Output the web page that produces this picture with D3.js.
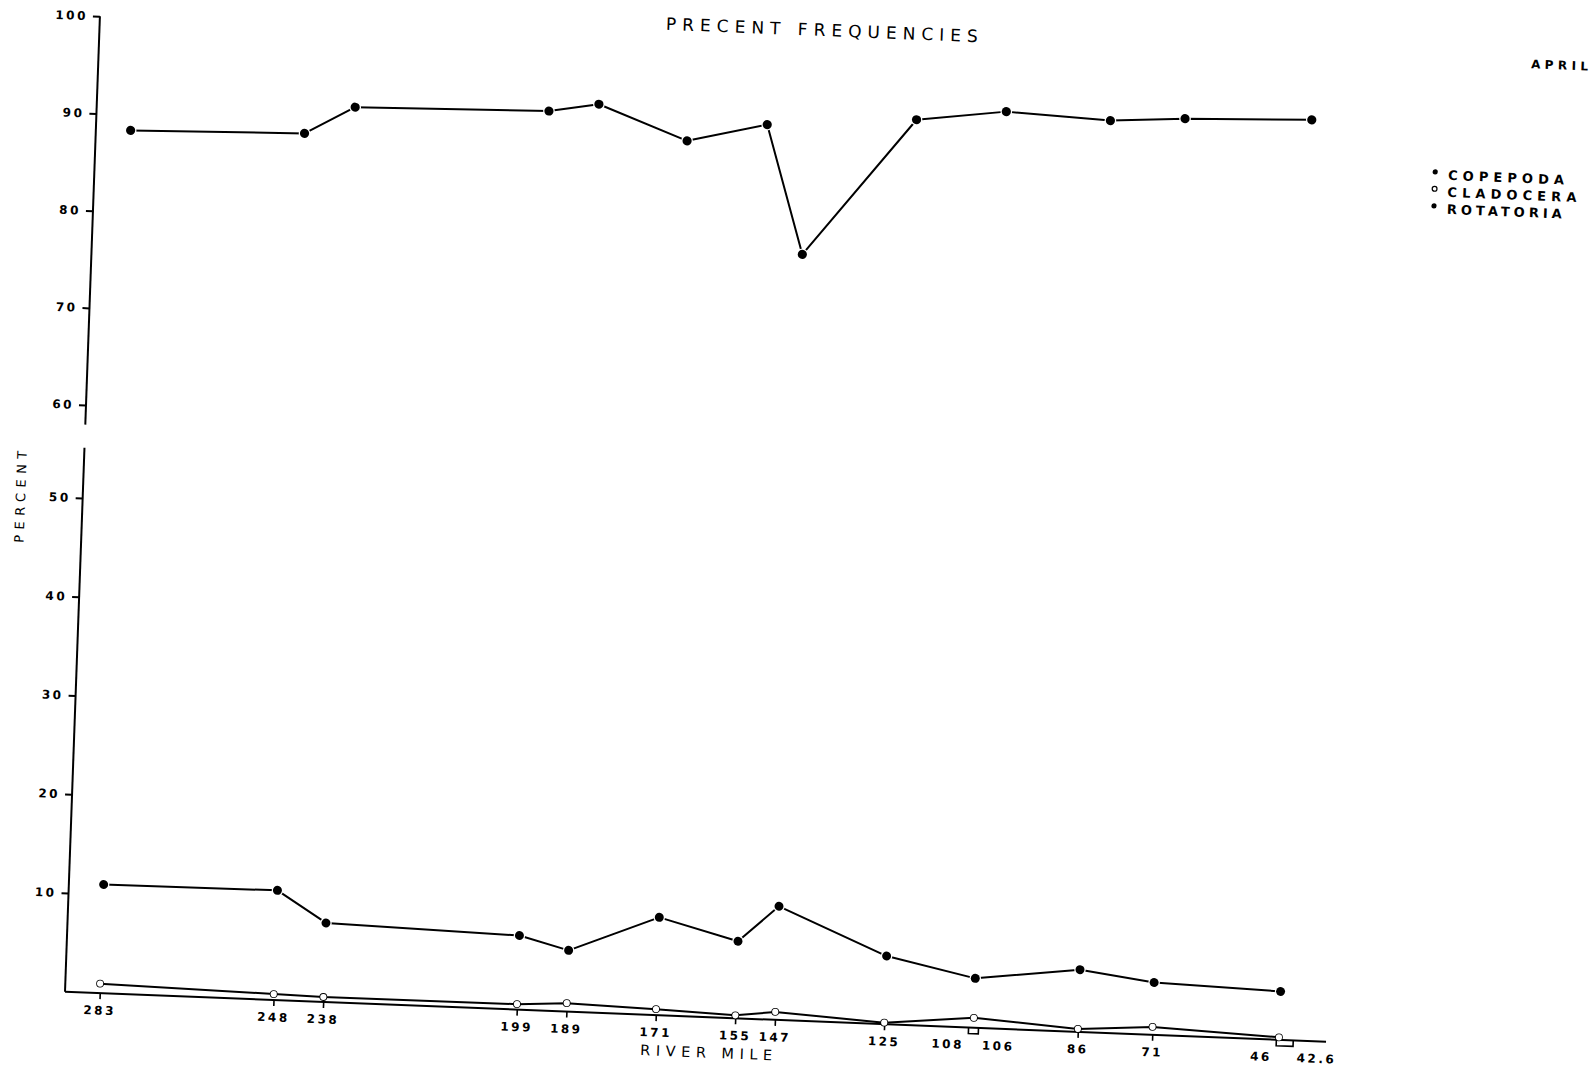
<!DOCTYPE html>
<html>
<head>
<meta charset="utf-8">
<script src="https://cdn.jsdelivr.net/npm/d3@7"></script>
<style>
  html, body { margin: 0; padding: 0; background: #fff; }
  svg { display: block; }
  .num { font-family: "DejaVu Sans", sans-serif; font-weight: bold; font-size: 12px; letter-spacing: 2.5px; fill: #000; }
</style>
</head>
<body>
<script>
// River-mile stations sampled in April (two stations are paired: 108/106 and 46/42.6)
const stationMiles = [283, 248, 238, 199, 189, 171, 155, 147, 125, 107, 86, 71, 45.5];

// Percent frequency of each group at each station
const rotatoria = [88.4, 88.8, 91.7, 92.1, 93.0, 89.6, 91.6, 78.4, 92.7, 93.9, 93.4, 93.9, 94.3];
const copepoda  = [11.0, 11.1, 8.0, 7.5, 6.2, 9.9, 7.8, 11.5, 6.9, 5.0, 6.3, 5.3, 4.9];
const cladocera = [0.95, 0.6, 0.5, 0.55, 0.85, 0.6, 0.3, 0.8, 0.15, 1.0, 0.3, 0.8, 0.25];

// Axis ticks
const xTickMiles = [283, 248, 238, 199, 189, 171, 155, 147, 125, 86, 71];
const pairedStations = [[108, 106], [46, 42.6]];
const yTicks = [10, 20, 30, 40, 50, 60, 70, 80, 90, 100];
const yBreak = [55.4, 57.9];

const W = 1594, H = 1068;
const svg = d3.select("body").append("svg").attr("width", W).attr("height", H);
svg.append("rect").attr("width", W).attr("height", H).attr("fill", "#fff");

// The whole sheet sits a couple of degrees off square on the page
const g = svg.append("g")
  .attr("transform", "matrix(0.99922,0.03961,-0.03577,0.99936,65,991.7)");

// Scales: river mile decreases downstream (left to right); broken percent axis
const x = d3.scaleLinear().domain([290, 36]).range([0, 1262]);
const y = d3.scaleLinear().domain([0, 50, 60, 100]).range([0, -494, -587, -976]);

// Y axis
const yAxis = g.append("g")
  .call(d3.axisLeft(y).tickValues(yTicks).tickSize(7).tickPadding(5).tickFormat(d3.format("d")));
yAxis.select(".domain").remove();
yAxis.selectAll(".tick line").attr("stroke", "#000").attr("stroke-width", 2);
yAxis.selectAll(".tick text").attr("class", "num").attr("font-size", null).attr("font-family", null);

g.append("line").attr("x1", 0).attr("x2", 0).attr("y1", y(0)).attr("y2", y(yBreak[0]))
  .attr("stroke", "#000").attr("stroke-width", 2);
g.append("line").attr("x1", 0).attr("x2", 0).attr("y1", y(yBreak[1])).attr("y2", y(100))
  .attr("stroke", "#000").attr("stroke-width", 2);

// X axis
const xAxis = g.append("g")
  .call(d3.axisBottom(x).tickValues(xTickMiles).tickSize(6).tickPadding(7).tickFormat(d3.format("d")));
xAxis.select(".domain").remove();
xAxis.selectAll(".tick line").attr("stroke", "#000").attr("stroke-width", 1.6);
xAxis.selectAll(".tick text").attr("class", "num").attr("font-size", null).attr("font-family", null);

g.append("line").attr("x1", x.range()[0]).attr("x2", x.range()[1]).attr("y1", 0).attr("y2", 0)
  .attr("stroke", "#000").attr("stroke-width", 2);

// Paired stations: small bracket below the axis with both mile labels
pairedStations.forEach(([a, b]) => {
  g.append("path")
    .attr("d", `M${x(a)},0V6H${x(b)}V0`)
    .attr("fill", "none").attr("stroke", "#000").attr("stroke-width", 1.6);
  g.append("text").attr("class", "num").attr("x", x(a) - 4).attr("y", 13).attr("dy", "0.71em")
    .attr("text-anchor", "end").text(a);
  g.append("text").attr("class", "num").attr("x", x(b) + 4).attr("y", 13).attr("dy", "0.71em")
    .attr("text-anchor", "start").text(b);
});

// Series lines
const line = d3.line().x((d, i) => x(stationMiles[i])).y(d => y(d));
[rotatoria, copepoda, cladocera].forEach(vals => {
  g.append("path").attr("d", line(vals))
    .attr("fill", "none").attr("stroke", "#000").attr("stroke-width", 2)
    .attr("stroke-linejoin", "round");
});

// Markers
function dots(vals, r, open) {
  g.append("g").selectAll("circle").data(vals).join("circle")
    .attr("cx", (d, i) => x(stationMiles[i]))
    .attr("cy", d => y(d))
    .attr("r", r)
    .attr("fill", open ? "#fff" : "#000")
    .attr("stroke", open ? "#000" : "#fff")
    .attr("stroke-width", open ? 1.6 : 2.5)
    .attr("paint-order", "stroke");
}
dots(rotatoria, 4.6, false);
dots(copepoda, 4.5, false);
dots(cladocera, 3.1, true);

// Titles
g.append("text")
  .attr("x", 566).attr("y", -985)
  .attr("textLength", 312).attr("lengthAdjust", "spacing")
  .style("font-family", "DejaVu Sans, sans-serif").style("font-size", "17px")
  .text("PRECENT FREQUENCIES");

g.append("text")
  .attr("x", 577).attr("y", 40.5)
  .attr("textLength", 132).attr("lengthAdjust", "spacing")
  .style("font-family", "DejaVu Sans, sans-serif").style("font-size", "14.5px")
  .text("RIVER MILE");

g.append("text")
  .attr("transform", "translate(-57.5,-492.8) rotate(-90)")
  .attr("text-anchor", "middle")
  .attr("textLength", 92).attr("lengthAdjust", "spacing")
  .style("font-family", "DejaVu Sans, sans-serif").style("font-size", "13px")
  .text("PERCENT");

g.append("text")
  .attr("x", 1432).attr("y", -980.8)
  .attr("textLength", 57).attr("lengthAdjust", "spacing")
  .style("font-family", "DejaVu Sans, sans-serif").style("font-size", "12px").style("font-weight", "bold")
  .text("APRIL");

// Legend
const legend = [
  { name: "COPEPODA", open: false, len: 116 },
  { name: "CLADOCERA", open: true, len: 129 },
  { name: "ROTATORIA", open: false, len: 115 }
];
legend.forEach((d, i) => {
  const base = -866 + i * 17;
  g.append("circle").attr("cx", 1340).attr("cy", base - 7.5).attr("r", open => 0)
    .attr("r", d.open ? 2.4 : 2.6)
    .attr("fill", d.open ? "#fff" : "#000")
    .attr("stroke", "#000").attr("stroke-width", d.open ? 1.2 : 0);
  g.append("text").attr("x", 1353).attr("y", base)
    .attr("textLength", d.len).attr("lengthAdjust", "spacing")
    .style("font-family", "DejaVu Sans, sans-serif").style("font-size", "13px").style("font-weight", "bold")
    .text(d.name);
});
</script>
</body>
</html>
